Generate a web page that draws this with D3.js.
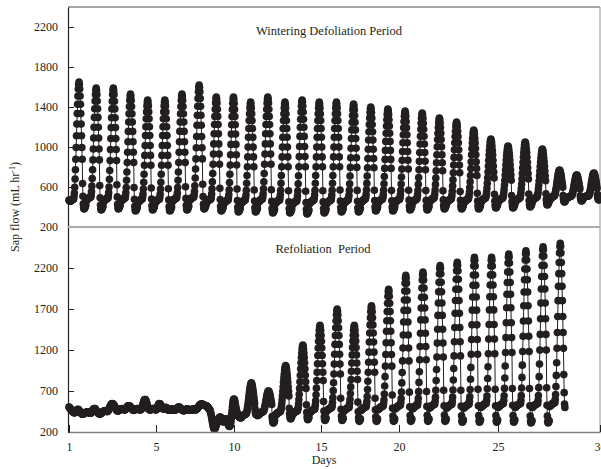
<!DOCTYPE html>
<html>
<head>
<meta charset="utf-8">
<script src="https://cdnjs.cloudflare.com/ajax/libs/d3/7.8.5/d3.min.js"></script>
<style>
body { margin: 0; background: #fff; }
svg text { font-family: "Liberation Serif", "Times New Roman", serif; fill: #231f20; font-size: 12px; }
</style>
</head>
<body>
<div id="chart"></div>
<script>
// half-hourly sap flow (mL/hr), one row of 48 readings per day
let winteringDays = [
    [470,465,460,458,458,462,465,468,471,473,475,477,479,480,503,539,597,679,773,878,995,1112,1229,1334,1428,1510,1580,1627,1650,1627,1580,1510,1428,1334,1229,1112,995,878,634,507,431,393,380,385,392,400,410,420],
    [460,465,470,474,478,482,485,488,491,493,495,497,499,500,522,555,609,685,773,871,980,1089,1198,1296,1383,1459,1525,1568,1590,1568,1525,1459,1383,1296,1198,1089,980,871,614,492,419,382,370,375,382,390,400,410],
    [450,455,460,464,468,472,475,478,481,483,485,487,489,490,512,545,600,677,765,864,974,1084,1194,1293,1381,1458,1524,1568,1590,1568,1524,1458,1381,1293,1194,1084,974,864,622,501,428,392,380,385,392,400,410,420],
    [450,455,460,464,468,472,475,478,481,483,485,487,489,490,511,542,594,667,750,844,948,1052,1156,1249,1332,1405,1468,1509,1530,1509,1468,1405,1332,1249,1156,1052,948,844,594,477,407,372,360,365,372,380,390,400],
    [440,445,450,454,458,462,465,468,471,473,475,477,479,480,500,530,579,648,728,817,916,1015,1114,1203,1282,1351,1411,1450,1470,1450,1411,1351,1282,1203,1114,1015,916,817,590,480,414,381,370,375,382,390,400,410],
    [440,445,450,454,458,462,465,468,471,473,475,477,479,480,500,530,579,648,728,817,916,1015,1114,1203,1282,1351,1411,1450,1470,1450,1411,1351,1282,1203,1114,1015,916,817,582,471,404,371,360,365,372,380,390,400],
    [450,455,460,464,468,472,475,478,481,483,485,487,489,490,511,542,594,667,750,844,948,1052,1156,1249,1332,1405,1468,1509,1530,1509,1468,1405,1332,1249,1156,1052,948,844,602,486,416,382,370,375,382,390,400,410],
    [460,465,470,474,478,482,485,488,491,493,495,497,499,500,522,556,612,690,780,881,993,1105,1217,1318,1407,1486,1553,1598,1620,1598,1553,1486,1407,1318,1217,1105,993,881,628,504,430,392,380,385,392,400,410,420],
    [440,445,450,454,458,462,465,468,471,473,475,477,479,480,500,531,582,653,735,827,929,1031,1133,1225,1306,1378,1439,1480,1500,1480,1439,1378,1306,1225,1133,1031,929,827,588,474,406,371,360,365,372,380,390,400],
    [430,435,440,444,448,452,455,458,461,463,465,467,469,470,491,522,573,645,728,820,923,1026,1129,1222,1304,1376,1438,1479,1500,1479,1438,1376,1304,1222,1129,1026,923,820,580,465,396,362,350,355,362,370,380,390],
    [430,435,440,444,448,452,455,458,461,463,465,467,469,470,490,519,568,637,715,803,901,999,1097,1185,1264,1332,1391,1430,1450,1430,1391,1332,1264,1185,1097,999,901,803,570,460,394,361,350,355,362,370,380,390],
    [440,445,450,454,458,462,465,468,471,473,475,477,479,480,500,531,582,653,735,827,929,1031,1133,1225,1306,1378,1439,1480,1500,1480,1439,1378,1306,1225,1133,1031,929,827,572,456,386,352,340,345,352,360,370,380],
    [430,435,440,444,448,452,455,458,461,463,465,467,469,470,490,519,568,637,715,803,901,999,1097,1185,1264,1332,1391,1430,1450,1430,1391,1332,1264,1185,1097,999,901,803,562,451,384,351,340,345,352,360,370,380],
    [420,425,430,434,438,442,445,448,451,453,455,457,459,460,480,511,561,632,713,803,904,1005,1106,1197,1278,1349,1409,1450,1470,1450,1409,1349,1278,1197,1106,1005,904,803,558,444,376,341,330,335,342,350,360,370],
    [430,435,440,444,448,452,455,458,461,463,465,467,469,470,490,519,568,637,715,803,901,999,1097,1185,1264,1332,1391,1430,1450,1430,1391,1332,1264,1185,1097,999,901,803,562,451,384,351,340,345,352,360,370,380],
    [430,435,440,444,448,452,455,458,461,463,465,467,469,470,490,519,568,637,715,803,901,999,1097,1185,1264,1332,1391,1430,1450,1430,1391,1332,1264,1185,1097,999,901,803,570,460,394,361,350,355,362,370,380,390],
    [430,435,440,444,448,452,455,458,461,463,465,467,469,470,489,518,566,633,710,796,892,988,1084,1171,1248,1315,1372,1411,1430,1411,1372,1315,1248,1171,1084,988,892,796,566,458,393,361,350,355,362,370,380,390],
    [440,445,450,454,458,462,465,468,471,473,475,477,479,480,498,526,572,636,710,793,885,977,1069,1152,1225,1290,1345,1382,1400,1382,1345,1290,1225,1152,1069,977,885,793,568,464,402,370,360,365,372,380,390,400],
    [440,445,450,454,458,462,465,468,471,473,475,477,479,480,498,525,570,633,705,786,876,966,1056,1137,1209,1272,1326,1362,1380,1362,1326,1272,1209,1137,1056,966,876,786,564,462,401,370,360,365,372,380,390,400],
    [440,445,450,454,458,462,465,468,471,473,475,477,479,480,498,524,568,630,700,779,867,955,1043,1122,1193,1254,1307,1342,1360,1342,1307,1254,1193,1122,1043,955,867,779,568,469,410,380,370,375,382,390,400,410],
    [440,445,450,454,458,462,465,468,471,473,475,477,479,480,497,523,566,626,695,772,858,944,1030,1108,1177,1237,1288,1323,1340,1323,1288,1237,1177,1108,1030,944,858,772,564,467,409,380,370,375,382,390,400,410],
    [450,455,460,464,468,472,475,478,481,483,485,487,489,490,506,530,570,626,690,762,842,922,1002,1074,1138,1194,1242,1274,1290,1274,1242,1194,1138,1074,1002,922,842,762,562,471,416,389,380,385,392,400,410,420],
    [440,445,450,454,458,462,465,468,471,473,475,477,479,480,495,519,557,611,673,742,819,896,973,1042,1104,1158,1204,1235,1250,1235,1204,1158,1104,1042,973,896,819,742,554,467,415,389,380,385,392,400,410,420],
    [440,445,450,454,458,462,465,468,471,473,475,477,479,480,494,515,549,597,653,715,784,853,922,984,1039,1087,1129,1156,1170,1156,1129,1087,1039,984,922,853,784,715,538,459,412,388,380,385,392,400,410,420],
    [450,455,460,464,468,472,475,478,481,483,485,487,489,490,502,520,549,590,638,691,750,809,868,921,968,1009,1045,1068,1080,1068,1045,1009,968,921,868,809,750,691,528,459,418,397,390,395,402,410,420,430],
    [450,455,460,464,468,472,475,478,481,483,485,487,489,490,500,516,542,578,620,667,719,771,823,870,911,948,979,1000,1010,1000,979,948,911,870,823,771,719,667,514,452,415,396,390,395,402,410,420,430],
    [450,455,460,464,468,472,475,478,481,483,485,487,489,490,501,518,546,585,630,680,736,792,848,899,944,983,1016,1039,1050,1039,1016,983,944,899,848,792,736,680,530,465,426,407,400,405,412,420,430,440],
    [460,465,470,474,478,482,485,488,491,493,495,497,499,500,510,524,548,582,620,663,711,759,807,850,889,922,951,970,980,970,951,922,889,850,807,759,711,663,532,476,442,426,420,425,432,440,450,460],
    [470,475,480,484,488,492,495,498,501,503,505,507,509,510,515,523,536,554,575,598,624,650,676,700,721,739,754,765,770,765,754,739,721,700,676,650,624,598,514,482,463,453,450,455,462,470,480,490],
    [488,490,492,494,496,498,500,502,504,505,506,508,509,510,514,521,531,546,563,581,602,623,644,663,680,695,707,716,720,716,707,695,680,663,644,623,602,581,512,486,470,463,460,465,472,480,490,500],
    [495,498,500,502,504,505,506,507,508,508,509,509,510,510,515,522,533,549,568,588,611,634,657,678,696,712,726,735,740,735,726,712,696,678,657,634,611,588,524,497,481,473,470,475,482,490,500,510]
];

let refoliationDays = [
    [505,500,496,490,484,478,472,466,460,455,450,446,442,438,436,434,435,438,442,447,453,460,466,471,474,476,474,470,465,459,452,446,440,434,429,425,421,418,417,418,420,423,426,429,431,433,435,437],
    [440,441,443,445,446,445,443,440,437,434,432,430,430,432,436,442,449,456,463,470,476,481,484,486,485,482,478,472,466,460,454,447,441,435,430,425,422,420,420,421,423,426,429,432,436,440,443,446],
    [449,452,455,458,460,461,460,458,455,452,450,450,451,455,461,469,479,490,500,510,519,527,534,540,544,546,545,542,538,532,525,517,509,500,491,483,475,469,463,459,456,456,458,461,464,468,471,474],
    [477,480,482,484,485,484,482,479,476,473,471,470,470,472,476,482,489,496,503,509,514,518,520,521,520,517,513,508,503,498,493,487,481,476,471,467,465,464,465,467,470,473,476,479,481,483,484,485],
    [485,483,481,478,475,472,470,469,470,473,478,486,496,509,524,540,556,570,582,590,595,596,592,584,572,558,542,526,512,500,490,482,476,472,470,469,470,472,474,477,480,482,484,485,485,484,482,479],
    [476,473,471,470,472,477,485,496,508,520,531,540,545,547,545,540,532,522,512,503,496,490,486,483,481,482,485,490,495,499,500,498,494,489,484,479,475,471,468,466,465,466,468,470,473,476,478,480],
    [480,478,475,472,469,467,465,465,466,468,471,474,477,480,484,489,494,499,503,505,505,502,498,493,488,483,478,474,470,467,464,462,460,460,461,463,466,469,472,475,477,479,480,480,479,477,474,472],
    [470,468,466,465,465,466,468,471,474,477,479,480,480,478,476,473,471,470,470,472,475,479,484,490,496,502,508,514,520,525,530,534,537,539,540,541,540,538,536,534,532,530,528,526,524,522,521,520],
    [520,516,512,507,502,497,492,486,480,474,468,458,442,422,400,376,350,325,300,279,260,247,240,238,242,250,260,272,285,300,315,330,342,352,360,366,371,376,380,381,378,372,364,355,345,336,328,322],
    [325,330,336,342,348,354,358,360,358,352,342,328,312,298,286,277,271,268,272,285,305,335,372,415,460,505,545,575,594,602,600,590,572,548,520,495,472,452,436,422,410,400,393,388,384,381,378,375],
    [370,375,380,384,388,392,396,400,403,406,409,412,414,416,418,420,428,439,458,485,515,549,587,625,663,697,728,754,777,792,800,792,777,754,728,697,663,625,587,549,488,449,426,414,410,418,428,440],
    [400,405,410,414,418,422,426,430,433,436,439,442,444,446,448,450,455,463,475,493,513,535,560,585,610,633,653,670,685,695,700,695,685,670,653,633,610,585,560,535,388,349,326,314,310,318,328,340],
    [400,405,410,414,418,422,426,430,433,436,439,442,444,446,448,450,461,478,506,545,590,640,696,752,808,859,904,943,976,999,1010,999,976,943,904,859,808,752,696,640,490,425,386,367,360,368,378,390],
    [410,415,420,424,428,432,436,440,443,446,449,452,454,456,458,460,476,500,540,596,660,732,812,892,972,1044,1108,1164,1212,1244,1260,1244,1212,1164,1108,1044,972,892,812,732,532,441,386,359,350,358,368,380],
    [430,435,440,444,448,452,456,460,463,466,469,472,474,476,478,480,500,531,582,653,735,827,929,1031,1133,1225,1306,1378,1439,1480,1500,1480,1439,1378,1306,1225,1133,1031,929,827,572,456,386,352,340,348,358,370],
    [450,455,460,464,468,472,476,480,483,486,489,492,494,496,498,500,524,560,620,704,800,908,1028,1148,1268,1376,1472,1556,1628,1676,1700,1676,1628,1556,1472,1376,1268,1148,1028,908,612,476,394,354,340,348,358,370],
    [450,455,460,464,468,472,476,480,483,486,489,492,494,496,498,500,520,550,600,670,750,840,940,1040,1140,1230,1310,1380,1440,1480,1500,1480,1440,1380,1310,1230,1140,1040,940,840,564,447,377,342,330,338,348,360],
    [460,465,470,474,478,482,486,490,493,496,499,502,504,506,508,510,535,572,633,719,818,928,1051,1174,1297,1408,1506,1592,1666,1715,1740,1715,1666,1592,1506,1408,1297,1174,1051,928,612,471,386,344,330,338,348,360],
    [470,475,480,484,488,492,496,500,503,506,509,512,514,516,518,520,548,591,662,761,875,1003,1145,1287,1429,1557,1670,1770,1855,1912,1940,1912,1855,1770,1670,1557,1429,1287,1145,1003,652,491,394,346,330,338,348,360],
    [480,485,490,494,498,502,506,510,513,516,519,522,524,526,528,530,562,609,688,799,925,1067,1225,1383,1541,1683,1810,1920,2015,2078,2110,2078,2015,1920,1810,1683,1541,1383,1225,1067,686,508,401,348,330,338,348,360],
    [480,485,490,494,498,502,506,510,513,516,519,522,524,526,528,530,562,611,692,805,935,1081,1243,1405,1567,1713,1842,1956,2053,2118,2150,2118,2053,1956,1842,1713,1567,1405,1243,1081,694,512,403,348,330,338,348,360],
    [490,495,500,504,508,512,516,520,523,526,529,532,534,536,538,540,574,625,709,827,963,1115,1284,1453,1622,1774,1909,2027,2129,2196,2230,2196,2129,2027,1909,1774,1622,1453,1284,1115,710,520,406,349,330,338,348,360],
    [490,495,500,504,508,512,516,520,523,526,529,532,534,536,538,540,575,627,713,834,973,1128,1301,1474,1647,1803,1941,2062,2166,2235,2270,2235,2166,2062,1941,1803,1647,1474,1301,1128,710,515,398,340,320,328,338,350],
    [490,495,500,504,508,512,516,520,523,526,529,532,534,536,538,540,576,630,719,844,988,1149,1328,1507,1686,1847,1990,2115,2223,2294,2330,2294,2223,2115,1990,1847,1686,1507,1328,1149,722,521,400,340,320,328,338,350],
    [500,505,510,514,518,522,526,530,533,536,539,542,544,546,548,550,586,639,728,853,995,1155,1333,1511,1689,1849,1992,2116,2223,2294,2330,2294,2223,2116,1992,1849,1689,1511,1333,1155,722,521,400,340,320,328,338,350],
    [500,505,510,514,518,522,526,530,533,536,539,542,544,546,548,550,586,641,732,859,1005,1169,1351,1533,1715,1879,2024,2152,2261,2334,2370,2334,2261,2152,2024,1879,1715,1533,1351,1169,730,525,402,341,320,328,338,350],
    [500,505,510,514,518,522,526,530,533,536,539,542,544,546,548,550,587,643,736,866,1015,1182,1368,1554,1740,1908,2057,2187,2298,2373,2410,2373,2298,2187,2057,1908,1740,1554,1368,1182,730,520,394,331,310,318,328,340],
    [500,505,510,514,518,522,526,530,533,536,539,542,544,546,548,550,588,646,741,875,1028,1199,1390,1581,1772,1944,2097,2231,2345,2422,2460,2422,2345,2231,2097,1944,1772,1581,1390,1199,740,525,396,332,310,318,328,340],
    [510,515,520,524,528,532,536,540,543,546,549,552,554,556,558,560,599,657,754,890,1045,1220,1414,1608,1802,1976,2131,2267,2384,2461,2500,2461,2384,2267,2131,1976,1802,1608,1414,1220,900,680,540,500]
];

let dayTicks = [1, 5, 10, 15, 20, 25, 30];
let winteringTicks = [200, 600, 1000, 1400, 1800, 2200];
let refoliationTicks = [200, 700, 1200, 1700, 2200];

let totalWidth = 601;
let totalHeight = 469;
let plotLeft = 68, plotRight = 600, plotTop = 7, plotMid = 227, plotBottom = 432;
let ink = "#231f20";
let perDay = 48;

// flatten day rows into one series of readings
function toSeries(days) {
    let out = [];
    days.forEach(function(row, d) {
        row.forEach(function(v, i) { out.push({ step: d * perDay + i, flow: v }); });
    });
    return out;
}
let winterData = toSeries(winteringDays);
let refolData = toSeries(refoliationDays);

var svg = d3.select("#chart").append("svg")
    .attr("width", totalWidth)
    .attr("height", totalHeight);

// time of the readings and the day labels of the printed axis
var xStep = d3.scaleLinear().domain([0, 31 * perDay]).range([69, 601]);
var xDay = d3.scaleLinear().domain(dayTicks).range([69, 156, 234, 321, 399, 498, 600]);

var yTop = d3.scaleLinear().domain([200, 2400]).range([plotMid, plotTop]);
var yBot = d3.scaleLinear().domain([200, 2700]).range([plotBottom, plotMid]);

// frame
svg.append("line").attr("x1", plotLeft).attr("x2", plotRight).attr("y1", plotTop).attr("y2", plotTop)
    .attr("stroke", "#4d4d4f").attr("stroke-width", 1);
svg.append("line").attr("x1", plotRight).attr("x2", plotRight).attr("y1", plotTop).attr("y2", plotBottom)
    .attr("stroke", "#939598").attr("stroke-width", 1);

function drawSeries(data, y) {
    var line = d3.line()
        .x(function(d) { return xStep(d.step); })
        .y(function(d) { return y(d.flow); });
    var g = svg.append("g");
    g.append("path")
        .datum(data)
        .attr("d", line)
        .attr("fill", "none")
        .attr("stroke", ink)
        .attr("stroke-width", 1);
    g.selectAll("circle")
        .data(data)
        .enter().append("circle")
        .attr("cx", function(d) { return xStep(d.step); })
        .attr("cy", function(d) { return y(d.flow); })
        .attr("r", 3.8)
        .attr("fill", ink);
}
drawSeries(winterData, yTop);
drawSeries(refolData, yBot);

// y axes, ticks pointing inwards
function drawY(scale, ticks) {
    var g = svg.append("g")
        .attr("transform", "translate(" + plotLeft + ",0)")
        .attr("color", ink)
        .call(d3.axisLeft(scale).tickValues(ticks).tickFormat(d3.format("d"))
            .tickSizeInner(-6).tickSizeOuter(0).tickPadding(10));
    g.select(".domain").attr("stroke-width", 1.2);
}
drawY(yTop, winteringTicks);
drawY(yBot, refoliationTicks);

// panel divider
svg.append("line").attr("x1", plotLeft).attr("x2", plotRight).attr("y1", plotMid).attr("y2", plotMid)
    .attr("stroke", "#a7a9ac").attr("stroke-width", 2);

// x axis
var xg = svg.append("g")
    .attr("transform", "translate(0," + plotBottom + ")")
    .attr("color", ink)
    .call(d3.axisBottom(xDay).tickValues(dayTicks).tickFormat(d3.format("d"))
        .tickSizeInner(-7).tickSizeOuter(0).tickPadding(10));
xg.select(".domain").attr("stroke", "#808285").attr("stroke-width", 1.5);

// panel titles and axis labels
svg.append("text")
    .attr("x", 329).attr("y", 34.5)
    .style("text-anchor", "middle")
    .style("font-size", "12.5px")
    .text("Wintering Defoliation Period");

svg.append("text")
    .attr("x", 323).attr("y", 253)
    .style("text-anchor", "middle")
    .style("font-size", "12.5px")
    .style("white-space", "pre")
    .text("Refoliation  Period");

svg.append("text")
    .attr("x", 324).attr("y", 464)
    .style("text-anchor", "middle")
    .text("Days");

var ylab = svg.append("text")
    .attr("transform", "translate(19,207) rotate(-90)")
    .style("text-anchor", "middle");
ylab.append("tspan").text("Sap flow (mL hr");
ylab.append("tspan").attr("dy", -4).style("font-size", "8px").text("-1");
ylab.append("tspan").attr("dy", 4).text(")");
</script>
</body>
</html>
